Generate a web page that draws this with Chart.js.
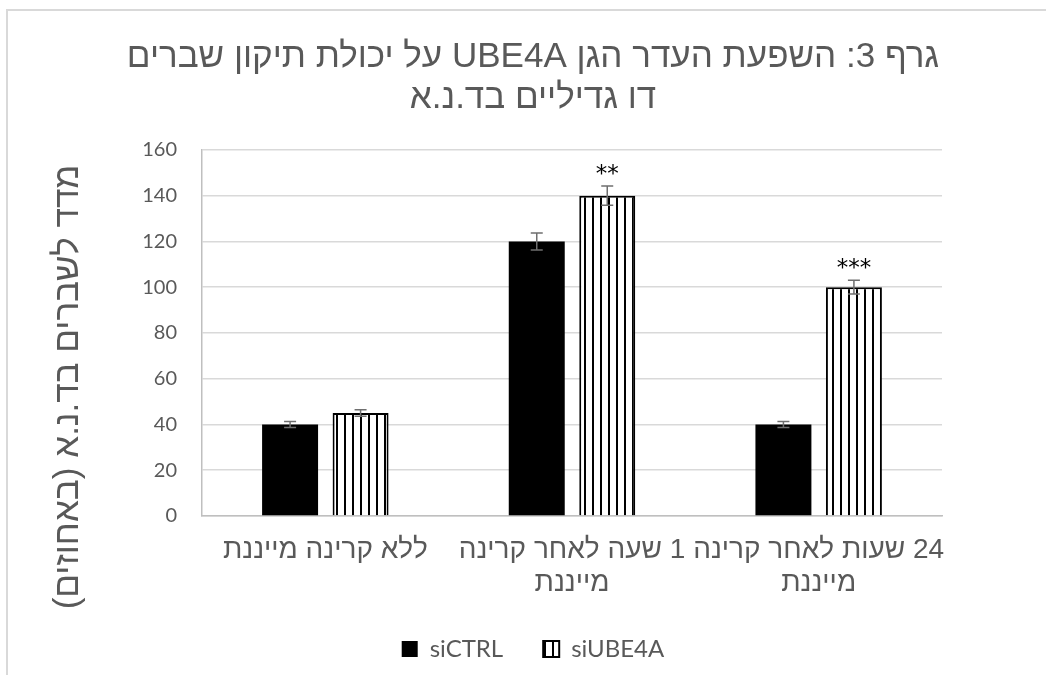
<!DOCTYPE html>
<html lang="he">
<head>
<meta charset="utf-8">
<script src="https://cdn.jsdelivr.net/npm/chart.js@4"></script>
<style>
  html, body { margin: 0; padding: 0; background: #fff; }
  #wrap { width: 1046px; height: 675px; }
  canvas { direction: rtl; }
</style>
</head>
<body>
<div id="wrap"><canvas id="chart"></canvas></div>
<script>
// categories (time after ionizing radiation)
const categories = [
  'ללא קרינה מייננת',
  ['1 שעה לאחר קרינה', 'מייננת'],
  ['24 שעות לאחר קרינה', 'מייננת'],
];
const ctrlValues = [40, 120, 40];
const ctrlErrors = [1.3, 3.7, 1.3];
const ube4aValues = [45, 140, 100];
const ube4aErrors = [1.4, 4.2, 3];
const ube4aMarks = ['', '**', '***'];
const yMin = 0;
const yMax = 160;
const yStep = 20;
const yTitle = 'מדד לשברים בד.נ.א (באחוזים)';

const grey = '#595959';

// vertical stripes for the siUBE4A bars
function stripes() {
  const c = document.createElement('canvas');
  c.width = 8;
  c.height = 8;
  const g = c.getContext('2d');
  g.fillStyle = '#fff';
  g.fillRect(0, 0, 8, 8);
  g.fillStyle = '#000';
  g.fillRect(0, 0, 2, 8);
  return g.createPattern(c, 'repeat');
}

const frame = {
  id: 'frame',
  beforeDraw(chart) {
    const { ctx, width, height } = chart;
    ctx.save();
    ctx.fillStyle = '#fff';
    ctx.fillRect(0, 0, width, height);
    ctx.strokeStyle = '#d9d9d9';
    ctx.lineWidth = 2;
    ctx.strokeRect(7, 10, width, height);
    ctx.restore();
  },
  // axis title is centred on plot + category labels, not on the axis alone
  afterDraw(chart) {
    const { ctx } = chart;
    ctx.save();
    ctx.translate(68, 387);
    ctx.rotate(-Math.PI / 2);
    ctx.fillStyle = grey;
    ctx.font = '35px "Liberation Sans"';
    ctx.textAlign = 'center';
    ctx.textBaseline = 'middle';
    ctx.fillText(yTitle, 0, 0);
    ctx.restore();
  },
};

const errorBars = {
  id: 'errorBars',
  afterDatasetsDraw(chart) {
    const { ctx, scales: { y } } = chart;
    ctx.save();
    ctx.strokeStyle = '#6f6f6f';
    ctx.lineWidth = 1.5;
    chart.data.datasets.forEach((ds, i) => {
      chart.getDatasetMeta(i).data.forEach((bar, j) => {
        const v = ds.data[j];
        const e = ds.errors[j];
        const top = y.getPixelForValue(v + e);
        const bot = y.getPixelForValue(v - e);
        ctx.beginPath();
        ctx.moveTo(bar.x, top);
        ctx.lineTo(bar.x, bot);
        ctx.moveTo(bar.x - 6, top);
        ctx.lineTo(bar.x + 6, top);
        ctx.moveTo(bar.x - 6, bot);
        ctx.lineTo(bar.x + 6, bot);
        ctx.stroke();

        const mark = ds.marks && ds.marks[j];
        if (mark) {
          ctx.fillStyle = '#000';
          ctx.font = '23px "DejaVu Sans"';
          ctx.textAlign = 'center';
          ctx.textBaseline = 'alphabetic';
          ctx.fillText(mark, bar.x, top - 5);
        }
      });
    });
    ctx.restore();
  },
};

new Chart(document.getElementById('chart'), {
  type: 'bar',
  data: {
    labels: categories,
    datasets: [
      {
        label: 'siCTRL',
        data: ctrlValues,
        errors: ctrlErrors,
        backgroundColor: '#000',
        borderColor: '#000',
        borderWidth: 0,
      },
      {
        label: 'siUBE4A',
        data: ube4aValues,
        errors: ube4aErrors,
        marks: ube4aMarks,
        backgroundColor: stripes(),
        borderColor: '#000',
        borderWidth: 2,
      },
    ],
  },
  options: {
    responsive: true,
    maintainAspectRatio: false,
    animation: false,
    categoryPercentage: 0.5716,
    barPercentage: 0.794,
    layout: {
      padding: { top: 10, left: 20, right: 0, bottom: 4 },
    },
    plugins: {
      tooltip: { enabled: false },
      title: {
        display: true,
        text: ['גרף 3: השפעת העדר הגן UBE4A על יכולת תיקון שברים', 'דו גדיליים בד.נ.א'],
        color: grey,
        font: { family: '"Liberation Sans"', size: 35, weight: 'normal', lineHeight: 1.17 },
        padding: { top: 26.5, bottom: 31.5 },
      },
      legend: {
        position: 'bottom',
        labels: {
          color: grey,
          font: { family: 'Lato', size: 24 },
          boxWidth: 16,
          boxHeight: 16,
          padding: 40,
        },
      },
    },
    scales: {
      x: {
        grid: { display: false },
        border: { color: '#bfbfbf', width: 1.5 },
        ticks: {
          color: grey,
          font: { family: '"Liberation Sans"', size: 28, lineHeight: 1.18 },
          padding: 9.5,
          maxRotation: 0,
          autoSkip: false,
        },
        afterFit(scale) {
          scale.height = 81;
        },
      },
      y: {
        min: yMin,
        max: yMax,
        ticks: {
          stepSize: yStep,
          color: grey,
          font: { family: 'Lato', size: 20 },
          padding: 25,
        },
        grid: { color: '#d9d9d9', lineWidth: 1.5, drawTicks: false },
        border: { color: '#bfbfbf', width: 1.5 },
        afterFit(scale) {
          scale.width = 182;
        },
      },
      // empty axis keeping room on the right of the plot
      yRight: {
        type: 'linear',
        position: 'right',
        display: true,
        grid: { display: false },
        border: { display: false },
        ticks: { display: false },
        afterFit(scale) {
          scale.width = 104;
        },
      },
    },
  },
  plugins: [frame, errorBars],
});
</script>
</body>
</html>
